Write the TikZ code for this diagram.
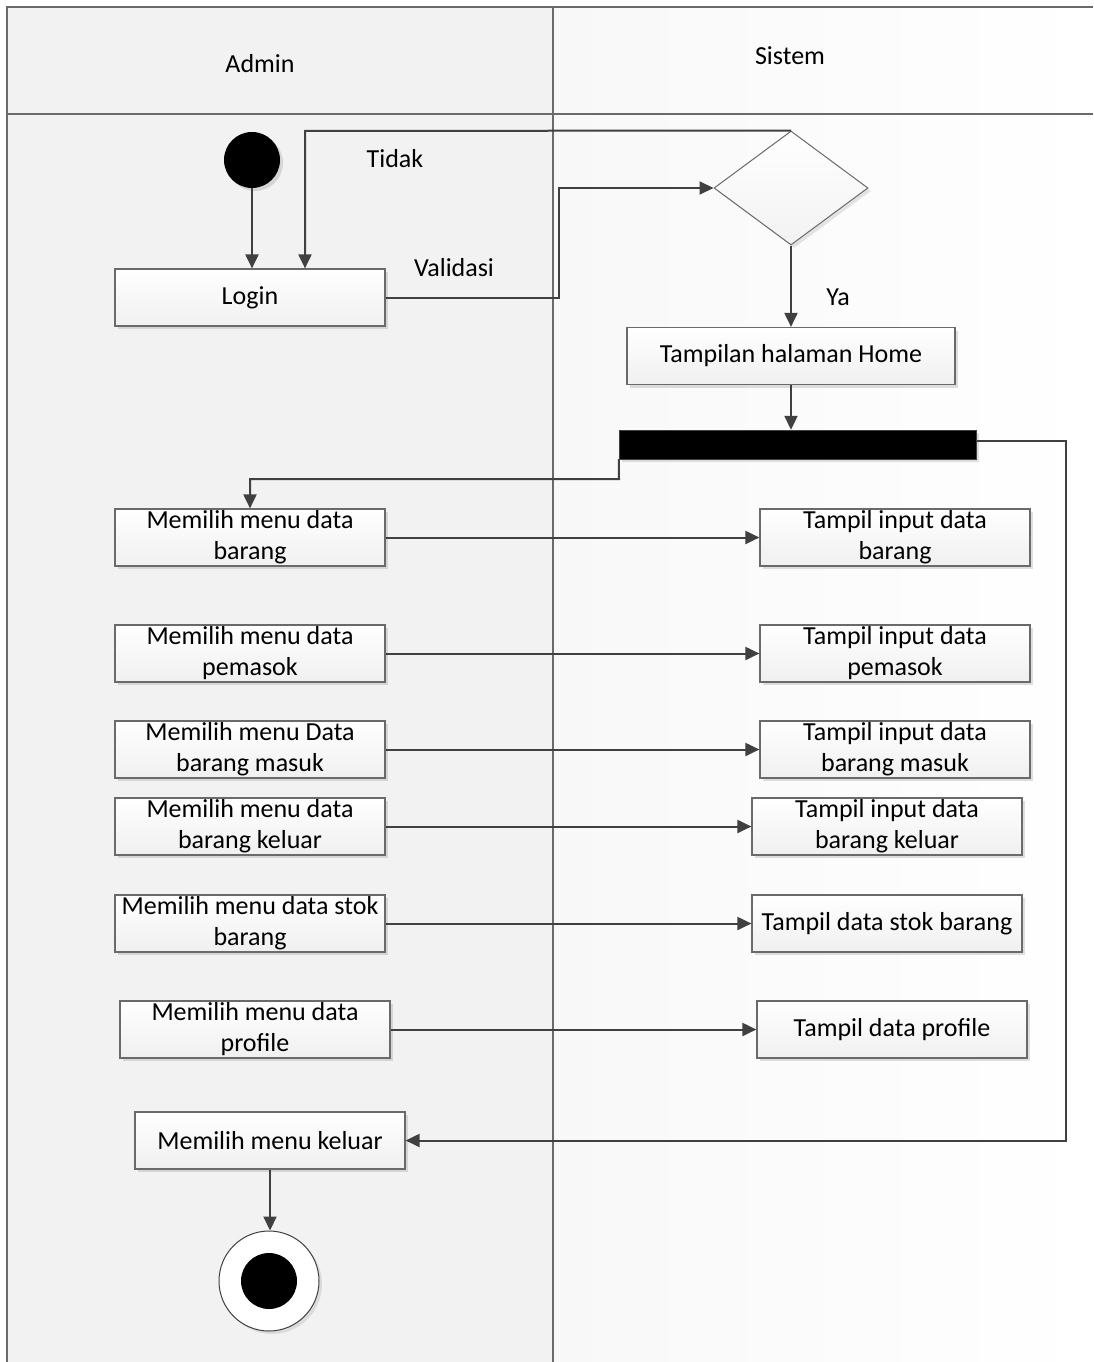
\documentclass[tikz,border=0pt]{standalone}
\usepackage{fontspec}
\setmainfont{Carlito}
\usetikzlibrary{arrows.meta, positioning, calc, shapes.geometric, shadows}

\definecolor{lineC}{HTML}{404040}
\definecolor{edgeC}{HTML}{6A6A6A}
\definecolor{laneA}{HTML}{F2F2F2}
\definecolor{laneB}{HTML}{F8F8F8}

\tikzset{
  txt/.style    = {font=\fontsize{26}{31}\selectfont},
  act/.style    = {txt, draw=edgeC, line width=1.2pt, rectangle, align=center,
                   top color=white, bottom color=gray!12,
                   minimum width=270pt, minimum height=57pt, inner sep=0pt,
                   drop shadow={opacity=0.25, shadow xshift=3pt, shadow yshift=-3pt}},
  cond/.style   = {draw=edgeC, line width=1pt, diamond, inner sep=0pt,
                   top color=white, bottom color=gray!10,
                   minimum width=154pt, minimum height=114pt,
                   drop shadow={opacity=0.2, shadow xshift=3pt, shadow yshift=-3pt}},
  bar/.style    = {draw=lineC, fill=black, rectangle, inner sep=0pt,
                   minimum width=357pt, minimum height=29pt,
                   drop shadow={opacity=0.25, shadow xshift=3pt, shadow yshift=-3pt}},
  initial/.style= {circle, fill=black, minimum size=56pt, inner sep=0pt,
                   drop shadow={opacity=0.25, shadow xshift=3pt, shadow yshift=-3pt}},
  final/.style  = {circle, draw=lineC, line width=1pt, fill=white,
                   minimum size=100pt, inner sep=0pt,
                   drop shadow={opacity=0.2, shadow xshift=3pt, shadow yshift=-3pt}},
  dot/.style    = {circle, fill=black, minimum size=56pt, inner sep=0pt},
  arr/.style    = {draw=lineC, line width=2pt, -{Triangle[length=14pt, width=13pt]}},
  lane/.style   = {draw=edgeC, line width=1.6pt},
  lbl/.style    = {txt}
}

\begin{document}
\begin{tikzpicture}[x=1pt, y=-1pt]
  \useasboundingbox (0,0) rectangle (1093,1362);

  % ── Swimlanes ─────────────────────────────────────────────────────────────
  \fill[laneA] (7,7) rectangle (553,1362);
  \shade[left color=laneB, right color=white] (553,7) rectangle (1093,1362);
  \draw[lane] (1093,7) -- (7,7) -- (7,1362);
  \draw[lane] (553,7) -- (553,1362);
  \draw[lane] (7,114) -- (1093,114);
  \node[txt] (hAdmin)  at (260,64) {Admin};
  \node[txt] (hSistem) at (790,56) {Sistem};

  % ── Login and validation ──────────────────────────────────────────────────
  \node[initial]              (start) at (252,160) {};
  \node[act]                  (login) at (250,297.5) {Login};
  \node[cond]                 (cek)   at (791,188) {};
  \node[act, minimum width=328pt] (home) at (791,356) {Tampilan halaman Home};
  \node[bar]                  (fork)  at (797.5,444.5) {};

  % ── Admin menu choices ────────────────────────────────────────────────────
  \node[act] (pilBarang)  at (250,537.5)  {Memilih menu data\\barang};
  \node[act] (pilPemasok) at (250,653.5)  {Memilih menu data\\pemasok};
  \node[act] (pilMasuk)   at (250,749.5)  {Memilih menu Data\\barang masuk};
  \node[act] (pilKeluar)  at (250,826.5)  {Memilih menu data\\barang keluar};
  \node[act] (pilStok)    at (250,923.5)  {Memilih menu data stok\\barang};
  \node[act] (pilProfile) at (255,1029.5) {Memilih menu data\\profile};
  \node[act] (keluar)     at (270,1140.5) {Memilih menu keluar};

  % ── System responses ──────────────────────────────────────────────────────
  \node[act] (tamBarang)  at (895,537.5)  {Tampil input data\\barang};
  \node[act] (tamPemasok) at (895,653.5)  {Tampil input data\\pemasok};
  \node[act] (tamMasuk)   at (895,749.5)  {Tampil input data\\barang masuk};
  \node[act] (tamKeluar)  at (887,826.5)  {Tampil input data\\barang keluar};
  \node[act] (tamStok)    at (887,923.5)  {Tampil data stok barang};
  \node[act] (tamProfile) at (892,1029.5) {Tampil data profile};

  % ── End ───────────────────────────────────────────────────────────────────
  \node[final] (end)    at (269,1281) {};
  \node[dot]   (endDot) at (end) {};

  % ── Connections ───────────────────────────────────────────────────────────
  \draw[arr] (start) -- (start |- login.north);

  % Tidak back to login
  \coordinate (tidakTurn) at (305,131);
  \draw[arr] (cek.north) -- (tidakTurn) -- (tidakTurn |- login.north);
  \node[lbl] (lTidak) at (395,159) {Tidak};

  % Validasi to decision
  \coordinate (valTurn) at (559,240);
  \draw[arr] (login.east) -- (login.east -| valTurn) |- (cek.west);
  \node[lbl] (lValidasi) at (454,268) {Validasi};

  % Ya to home
  \draw[arr] (cek.south) -- (home.north);
  \node[lbl] (lYa) at (838,297) {Ya};

  \draw[arr] (home.south) -- (home.south |- fork.north);

  % fork to first choice
  \coordinate (forkDrop) at (619,479);
  \draw[arr] (fork.south west) -- (forkDrop) -| (pilBarang.north);

  % choices to responses
  \foreach \a/\b in {pilBarang/tamBarang, pilPemasok/tamPemasok,
                     pilMasuk/tamMasuk, pilKeluar/tamKeluar,
                     pilStok/tamStok, pilProfile/tamProfile}
    \draw[arr] (\a.east) -- (\b.west);

  % fork to keluar
  \coordinate (rightRail) at (1066,441);
  \draw[arr] (rightRail -| fork.east) -- (rightRail) |- (keluar.east);

  \draw[arr] (keluar.south) -- (keluar.south |- end.north);

\end{tikzpicture}
\end{document}
